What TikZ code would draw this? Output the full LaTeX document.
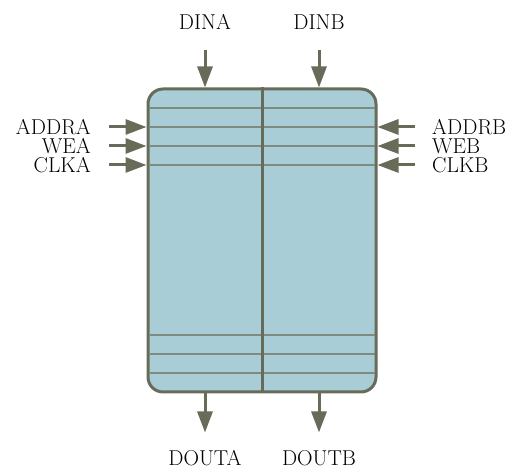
\documentclass[tikz,border=0pt]{standalone}
\usepackage{xcolor}
\definecolor{rambg}{HTML}{A8CDD6}
\definecolor{ramln}{HTML}{676B58}
\definecolor{ramrow}{HTML}{7D8B80}
\usepackage{tikz}
\usetikzlibrary{arrows.meta,positioning,calc}

\begin{document}
\begin{tikzpicture}[x=1pt,y=1pt,
  lbl/.style={font=\fontsize{21.5}{25}\selectfont,inner sep=0pt},
  sig/.style={draw=ramln,line width=3pt,-{Triangle[length=21pt,width=15pt]}},
  row/.style={draw=ramrow,line width=1.6pt}]
\useasboundingbox (0,0) rectangle (515,473);
% memory block
\node[draw=ramln,fill=rambg,line width=3pt,rounded corners=15pt,
  minimum width=228pt,minimum height=303pt,inner sep=0pt] (mem) at (262,232.5) {};
\foreach \y in {365,346,327,308,138,119,100}
  \draw[row] (149.5,\y) -- (374.5,\y);
\draw[draw=ramln,line width=3pt] (mem.north) -- (mem.south);
% data in / out
\node[lbl] (dina) at (205,451) {DINA};
\node[lbl] (dinb) at (319,451) {DINB};
\node[lbl] (douta) at (205,15) {DOUTA};
\node[lbl] (doutb) at (319,15) {DOUTB};
\coordinate (dinaT) at (205,423);
\coordinate (dinbT) at (319,423);
\draw[sig] (dinaT) -- (dinaT |- mem.north);
\draw[sig] (dinbT) -- (dinbT |- mem.north);
\draw[sig] (douta |- mem.south) -- ++(0,-39);
\draw[sig] (doutb |- mem.south) -- ++(0,-39);
% port A controls
\node[lbl,anchor=east] (addra) at (91,346) {ADDRA};
\node[lbl,anchor=east] (wea) at (91,327) {WEA};
\node[lbl,anchor=east] (clka) at (91,308) {CLKA};
% port B controls
\node[lbl,anchor=west] (addrb) at (432,346) {ADDRB};
\node[lbl,anchor=west] (web) at (432,327) {WEB};
\node[lbl,anchor=west] (clkb) at (432,308) {CLKB};
\foreach \p in {addra,wea,clka}{
  \coordinate (\p T) at ($(\p.east)+(18,0)$);
  \draw[sig] (\p T) -- (\p T -| mem.west);
}
\foreach \p in {addrb,web,clkb}{
  \coordinate (\p T) at ($(\p.west)-(17,0)$);
  \draw[sig] (\p T) -- (\p T -| mem.east);
}
\end{tikzpicture}
\end{document}
